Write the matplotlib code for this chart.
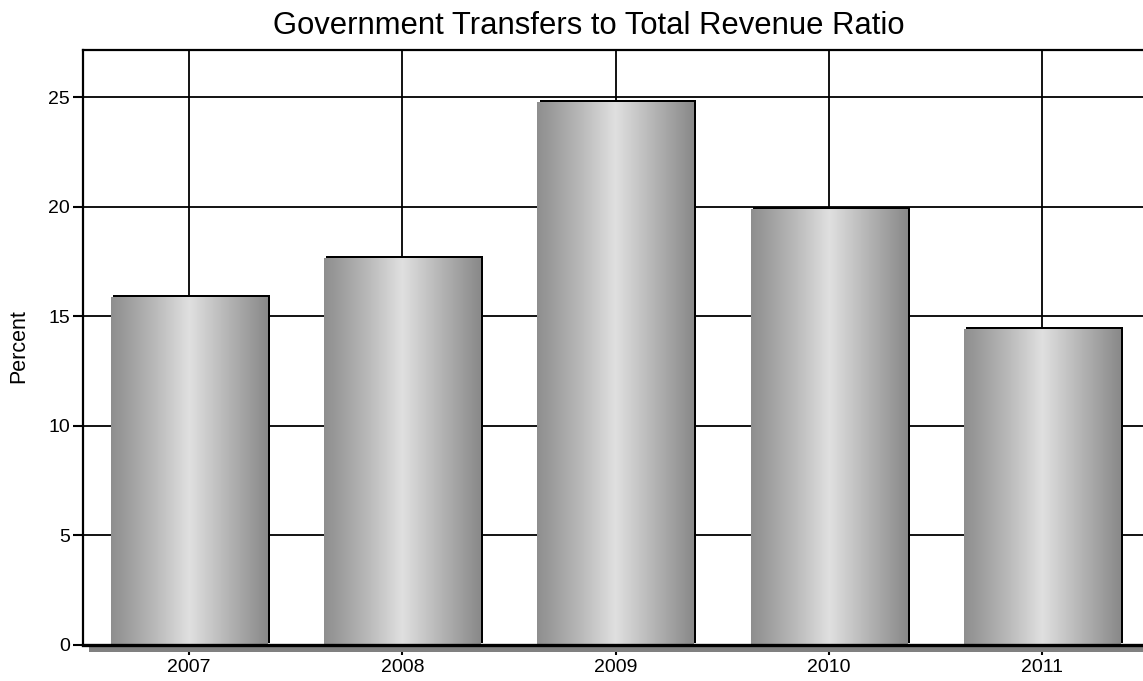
import numpy as np
import matplotlib
matplotlib.use("Agg")
import matplotlib.pyplot as plt
from matplotlib.patches import Rectangle
from matplotlib.colors import LinearSegmentedColormap
from matplotlib.transforms import ScaledTranslation, blended_transform_factory

# Data
years = ["2007", "2008", "2009", "2010", "2011"]
ratios = [15.87, 17.65, 24.77, 19.89, 14.42]
yticks = [0, 5, 10, 15, 20, 25]

plt.rcParams["font.family"] = ["Liberation Sans", "DejaVu Sans"]

fig = plt.figure(figsize=(11.43, 6.81), dpi=100)
W, H = 1143, 681
left, right, top, bottom = 82.5, 1149, 50, 644.7
ax = fig.add_axes([left / W, 1 - bottom / H, (right - left) / W, (bottom - top) / H])

# Grid
ax.set_axisbelow(True)
ax.grid(True, color="black", linewidth=1.3)

bar_w = 0.735
cmap = LinearSegmentedColormap.from_list(
    "steel", ["#8e8e8e", "#b4b4b4", "#e0e0e0", "#b4b4b4", "#898989"])
grad = np.linspace(0, 1, 256).reshape(1, -1)

shadow_off = ScaledTranslation(2.2 / 100, 2.0 / 100, fig.dpi_scale_trans)
for i, v in enumerate(ratios):
    x0 = i - bar_w / 2
    # dark offset edge behind each bar
    sh = Rectangle((x0, 0), bar_w, v, facecolor="black", edgecolor="none",
                   transform=ax.transData + shadow_off, zorder=3)
    ax.add_patch(sh)
    im = ax.imshow(grad, cmap=cmap, aspect="auto",
                   extent=(x0, x0 + bar_w, 0, v), zorder=4,
                   interpolation="bilinear")
    clip = Rectangle((x0, 0), bar_w, v, transform=ax.transData,
                     facecolor="none", edgecolor="none")
    ax.add_patch(clip)
    im.set_clip_path(clip)

ax.set_xlim(-0.5, len(years) - 0.5)
ax.set_ylim(0, 27.15)

# Gray band under the baseline
band_tr = blended_transform_factory(ax.transAxes, ax.transAxes) + \
    ScaledTranslation(6.5 / 100, -7.3 / 100, fig.dpi_scale_trans)
band = Rectangle((0, 0), 1.2, 6.0 / ((bottom - top)), transform=band_tr,
                 facecolor="#808080", edgecolor="none", clip_on=False, zorder=2)
ax.add_patch(band)

for s in ["left", "top"]:
    ax.spines[s].set_linewidth(1.6)
ax.spines["bottom"].set_linewidth(2.4)
ax.spines["bottom"].set_zorder(6)
ax.spines["right"].set_visible(False)

ax.set_xticks(range(len(years)))
ax.set_xticklabels(years)
ax.set_yticks(yticks)
ax.tick_params(axis="both", direction="out", length=7, width=1.5,
               labelsize=14, colors="black")
ax.tick_params(axis="x", pad=3.5)
ax.tick_params(axis="y", pad=2)

fig.text(19 / W, 1 - 346 / H, "Percent", rotation=90,
         ha="center", va="center", fontsize=15.5)
fig.text(589 / W, 1 - 34 / H, "Government Transfers to Total Revenue Ratio",
         ha="center", va="baseline", fontsize=22.3)

fig.savefig("out.png", dpi=100)
